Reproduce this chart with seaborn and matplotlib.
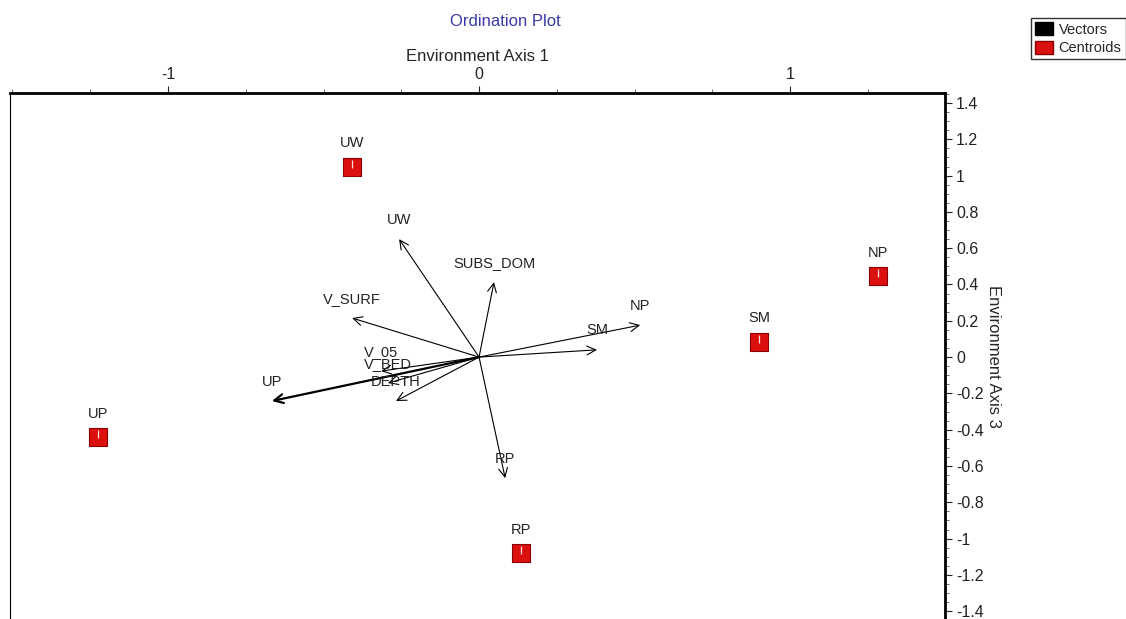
import matplotlib
matplotlib.use("Agg")
import matplotlib.pyplot as plt
from matplotlib.ticker import MultipleLocator, FuncFormatter
from matplotlib.patches import Patch
import seaborn as sns
import pandas as pd

sns.set_theme(style="white")
plt.rcParams["font.family"] = ["Liberation Sans", "DejaVu Sans"]
plt.rcParams["axes.unicode_minus"] = False

# ---- dados ----
vec_names = ["UW", "SUBS_DOM", "V_SURF", "NP", "SM", "RP", "UP", "V_05", "V_BED", "DEPTH"]
vec_x = [-0.257, 0.048, -0.408, 0.518, 0.379, 0.084, -0.666, -0.315, -0.293, -0.267]
vec_y = [0.650, 0.413, 0.215, 0.176, 0.040, -0.667, -0.242, -0.077, -0.143, -0.242]

cent_names = ["UW", "NP", "SM", "UP", "RP"]
cent_x = [-0.408, 1.283, 0.900, -1.225, 0.135]
cent_y = [1.047, 0.446, 0.083, -0.441, -1.080]

x_ticks = [-1, 0, 1]

fig = plt.figure(figsize=(11.26, 6.19), dpi=100)
ax = fig.add_axes([10 / 1126, 0.0, 935 / 1126, 1 - 93 / 619])

# vetores
for nome, vx, vy in zip(vec_names, vec_x, vec_y):
    lw = 1.6 if nome == "UP" else 0.8
    ax.annotate("", xy=(vx, vy), xytext=(0, 0),
                arrowprops=dict(arrowstyle="->", color="black", lw=lw,
                                mutation_scale=16, shrinkA=0, shrinkB=0))
    ax.annotate(nome, xy=(vx, vy), xytext=(0, 14), textcoords="offset points",
                ha="center", va="center", fontsize=10.5, color="#222222")

# centróides
df = pd.DataFrame({"nome": cent_names, "x": cent_x, "y": cent_y})
sns.scatterplot(data=df, x="x", y="y", marker="s", s=150, color="#dd1010",
                edgecolor="#8a0000", linewidth=0.8, ax=ax, zorder=3)
ax.scatter(df["x"], df["y"] + 0.015, marker="|", s=30, color="#f4dede",
           linewidths=0.9, zorder=4)
for _, r in df.iterrows():
    ax.annotate(r["nome"], xy=(r["x"], r["y"]), xytext=(0, 17),
                textcoords="offset points", ha="center", va="center",
                fontsize=10.5, color="#222222")

ax.set_xlim(-1.508, 1.498)
ax.set_ylim(-1.443, 1.455)

# eixo x em cima
ax.xaxis.set_ticks_position("top")
ax.xaxis.set_label_position("top")
ax.set_xticks(x_ticks)
ax.xaxis.set_minor_locator(MultipleLocator(0.25))
ax.set_xlabel("Environment Axis 1", fontsize=12, labelpad=4)

# eixo y à direita
ax.yaxis.set_ticks_position("right")
ax.yaxis.set_label_position("right")
ax.yaxis.set_major_locator(MultipleLocator(0.2))
ax.yaxis.set_minor_locator(MultipleLocator(0.05))
ax.yaxis.set_major_formatter(FuncFormatter(lambda v, p: f"{v:g}" if abs(v) > 1e-9 else "0"))
ax.set_ylabel("Environment Axis 3", fontsize=12, rotation=-90, labelpad=12)

ax.tick_params(axis="both", which="major", direction="out", length=5, width=0.8,
               labelsize=11.5, colors="#222222", pad=3)
ax.tick_params(axis="both", which="minor", direction="out", length=3, width=0.6,
               colors="#555555")
ax.tick_params(axis="x", which="both", labeltop=True, labelbottom=False, top=True, bottom=False)
ax.tick_params(axis="y", which="both", labelright=True, labelleft=False, right=True, left=False)

for lado in ["top", "right"]:
    ax.spines[lado].set_linewidth(2.0)
    ax.spines[lado].set_color("black")
ax.spines["left"].set_linewidth(0.8)
ax.spines["left"].set_color("black")
ax.spines["bottom"].set_visible(False)

fig.text(505 / 1126, 1 - 22 / 619, "Ordination Plot", color="#3a3aa8",
         fontsize=12, ha="center", va="center")

handles = [Patch(facecolor="black", edgecolor="black", label="Vectors"),
           Patch(facecolor="#dd1010", edgecolor="#8a0000", label="Centroids")]
fig.legend(handles=handles, loc="upper left", bbox_to_anchor=(1031 / 1126, 1 - 18 / 619),
           fontsize=10.5, frameon=True, fancybox=False, edgecolor="black",
           handlelength=1.2, handleheight=1.0, handletextpad=0.4,
           borderpad=0.3, labelspacing=0.25, borderaxespad=0)

fig.savefig("out.png", dpi=100)
